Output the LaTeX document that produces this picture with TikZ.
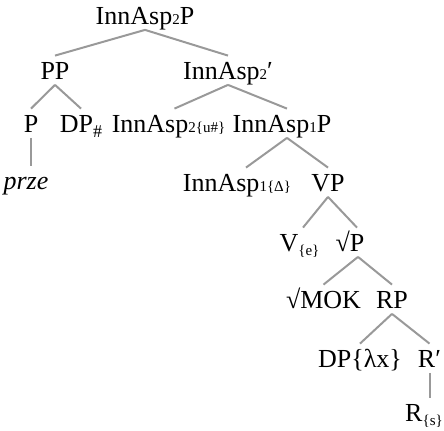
\documentclass[tikz,border=0pt]{standalone}
\usepackage{fontspec}
\usepackage{tikz}
\setmainfont{Liberation Serif}
\newcommand{\treesiz}{\fontsize{13}{15}\selectfont}
\newcommand{\smidx}[1]{{\fontsize{7.5}{8}\selectfont #1}}
\newcommand{\lowidx}[1]{\raisebox{-2pt}{\fontsize{7.5}{8}\selectfont #1}}
\tikzset{
    lbl/.style={anchor=base, inner sep=0pt, text height=12pt, text depth=2.25pt, font=\treesiz},
    branch/.style={draw=black!40, line width=1pt}
}

\begin{document}
\begin{tikzpicture}[x=0.5pt,y=-0.5pt]
    \useasboundingbox (0,0) rectangle (444,431);

    \node[lbl] (inn2P) at (145,25) {InnAsp\smidx{2}P};

    \node[lbl] (pp) at (55,80) {PP};
    \node[lbl] (inn2bar) at (228,80) {InnAsp\smidx{2}′};

    \node[lbl] (p) at (31,133) {P};
    \node[lbl] (dp) at (81,133) {DP\raisebox{-2.5pt}{\fontsize{9}{10}\selectfont \#}};
    \node[lbl] (inn2u) at (168.5,133) {InnAsp\smidx{2\{u\#\}}};
    \node[lbl] (inn1P) at (282,133) {InnAsp\smidx{1}P};

    \node[lbl] (prze) at (26,190) {\itshape prze};
    \node[lbl] (inn1d) at (237,192) {InnAsp\smidx{1\{Δ\}}};
    \node[lbl] (vp) at (328,192) {VP};

    \node[lbl] (v) at (299.5,252) {V\lowidx{\{e\}}};
    \node[lbl] (rootP) at (350,252) {√P};

    \node[lbl] (mok) at (323.5,309) {√MOK};
    \node[lbl] (rp) at (392,309) {RP};

    \node[lbl] (dplx) at (360,368) {DP\{λx\}};
    \node[lbl] (rbar) at (429.5,368) {R′};

    \node[lbl] (rs) at (424,422) {R\lowidx{\{s\}}};

    % branches
    \draw[branch] (inn2P.south) -- (pp.north);
    \draw[branch] (inn2P.south) -- (inn2bar.north);
    \draw[branch] (pp.south) -- (p.north);
    \draw[branch] (pp.south) -- (dp.north);
    \draw[branch] (inn2bar.south) -- ([xshift=3pt]inn2u.north);
    \draw[branch] (inn2bar.south) -- ([xshift=2.5pt]inn1P.north);
    \draw[branch] (p.south) -- (p.south |- prze.north);
    \draw[branch] ([xshift=2.5pt]inn1P.south) -- ([xshift=4.5pt]inn1d.north);
    \draw[branch] ([xshift=2.5pt]inn1P.south) -- (vp.north);
    \draw[branch] (vp.south) -- ([xshift=1.75pt]v.north);
    \draw[branch] (vp.south) -- ([xshift=3.5pt]rootP.north);
    \draw[branch] ([xshift=4pt]rootP.south) -- (mok.north);
    \draw[branch] ([xshift=4pt]rootP.south) -- (rp.north);
    \draw[branch] (rp.south) -- (dplx.north);
    \draw[branch] (rp.south) -- (rbar.north);
    \draw[branch] (rbar.south) -- (rbar.south |- rs.north);

\end{tikzpicture}
\end{document}
